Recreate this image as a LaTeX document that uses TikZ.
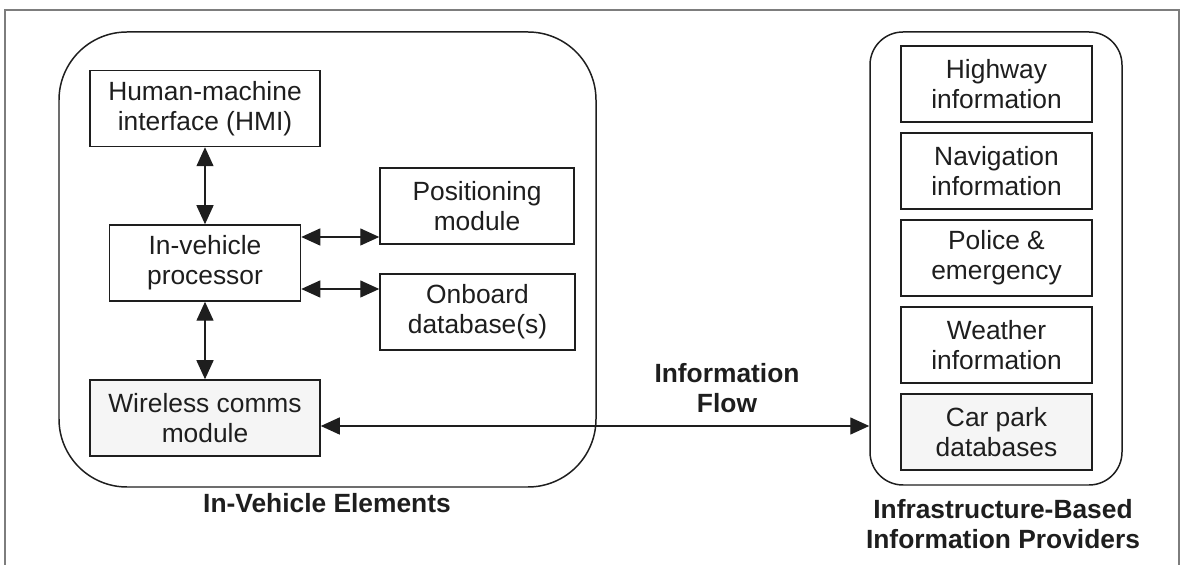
\documentclass[tikz,border=0pt]{standalone}
\usepackage{fontspec}
\setmainfont{Liberation Sans}
\usetikzlibrary{arrows.meta,positioning,calc}
\definecolor{ink}{RGB}{30,30,30}
\definecolor{rim}{RGB}{125,125,125}
\tikzset{
  >={Triangle[length=3.8mm,width=3.4mm]},
  box/.style={draw=ink,fill=#1,line width=0.85pt,minimum height=15.2mm,align=center,
    font=\fontsize{15}{17}\selectfont,text=ink,inner sep=0pt},
  box/.default=white,
  group/.style={draw=ink,line width=0.85pt,rounded corners=#1},
  flow/.style={<->,line width=0.8pt,draw=ink},
  tag/.style={font=\fontsize{15}{17}\selectfont\bfseries,text=ink,align=center},
}

\begin{document}
\begin{tikzpicture}
  \useasboundingbox (0,0) rectangle (23.64,-11.3);
  \draw[rim,line width=1pt] (0.1,-11.3) -- (0.1,-0.2) -- (23.58,-0.2) -- (23.58,-11.3);
  % the two groups
  \node[group=1.36cm,minimum width=10.74cm,minimum height=9.1cm] (veh) at (6.55,-5.19) {};
  \node[group=0.66cm,minimum width=5.04cm,minimum height=9.06cm] (infra) at (19.92,-5.17) {};
  \node[tag] (vehlbl) at (6.54,-10.06) {In-Vehicle Elements};
  \node[tag] (infralbl) at (20.06,-10.49) {Infrastructure-Based\\Information Providers};
  % in-vehicle parts
  \node[box,minimum width=4.6cm] (hmi) at (4.1,-2.17) {Human-machine\\interface (HMI)};
  \node[box,minimum width=3.82cm] (proc) at (4.1,-5.26) {In-vehicle\\processor};
  \node[box=black!4,minimum width=4.6cm] (wire) at (4.1,-8.36) {Wireless comms\\module};
  \node[box,minimum width=3.88cm] (pos) at (9.54,-4.12) {Positioning\\module};
  \node[box,minimum width=3.9cm] (db) at (9.55,-6.24) {Onboard\\database(s)};
  % providers
  \foreach \t/\f [count=\i] in {Highway\\information/white,Navigation\\information/white,
      Police \&\\emergency/white,Weather\\information/white,Car park\\databases/black!4}
    \node[box=\f,minimum width=3.82cm] (p\i) at (19.93,{-1.68-1.74*(\i-1)}) {\t};
  % links
  \coordinate (pa) at ([yshift=0.52cm]proc.east);
  \coordinate (pb) at ([yshift=-0.52cm]proc.east);
  \coordinate (wa) at ([yshift=-0.16cm]wire.east);
  \draw[flow] (hmi) -- (proc);
  \draw[flow] (proc) -- (wire);
  \draw[flow] (pa) -- (pa -| pos.west);
  \draw[flow] (pb) -- (pb -| db.west);
  \draw[flow] (wa) -- (wa -| infra.west);
  \node[tag] (flowlbl) at (14.54,-7.76) {Information\\Flow};
\end{tikzpicture}
\end{document}
